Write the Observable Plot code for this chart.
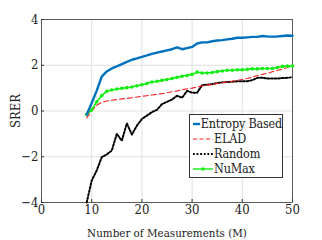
<!DOCTYPE html>
<html><head><meta charset="utf-8">
<script src="https://cdn.jsdelivr.net/npm/d3@7"></script>
<script src="https://cdn.jsdelivr.net/npm/@observablehq/plot@0.6"></script>
<style>
body{margin:0;background:#fff;}
#wrap{position:relative;width:322px;height:240px;font-family:'DejaVu Serif Condensed','DejaVu Serif',serif;font-stretch:condensed;}
#chart svg, #chart svg text{font-family:'DejaVu Serif Condensed','DejaVu Serif',serif !important;font-stretch:condensed;}
#legend{position:absolute;left:189px;top:114px;width:94px;height:64px;border:1px solid #333;background:#fff;box-sizing:border-box;font-size:12.5px;line-height:15px;padding-top:1px;color:#222;letter-spacing:-0.2px;}
#legend div{display:flex;align-items:center;white-space:nowrap;}
#legend svg{margin-left:3px;margin-right:1px;}
</style></head>
<body><div id="wrap"><div id="chart"></div><div id="legend"></div></div>
<script>
const M = d3.range(9, 51);
const entropy = [-0.16,0.35,0.89,1.5,1.73,1.86,1.95,2.05,2.15,2.24,2.3,2.37,2.43,2.5,2.55,2.6,2.65,2.7,2.78,2.7,2.75,2.8,2.95,3.0,3.0,3.05,3.08,3.1,3.13,3.16,3.2,3.2,3.22,3.24,3.24,3.28,3.26,3.25,3.26,3.28,3.3,3.29];
const elad = [-0.3,0.0,0.25,0.38,0.44,0.47,0.5,0.53,0.55,0.58,0.61,0.64,0.67,0.7,0.73,0.76,0.8,0.84,0.88,0.93,0.97,1.0,1.05,1.1,1.13,1.16,1.2,1.24,1.27,1.3,1.34,1.38,1.42,1.48,1.55,1.6,1.65,1.72,1.78,1.83,1.9,1.97];
const random = [-4.0,-3.04,-2.6,-2.02,-1.9,-1.73,-1.0,-1.3,-0.54,-1.03,-0.64,-0.35,-0.2,-0.05,0.05,0.3,0.4,0.5,0.67,0.58,0.88,0.8,0.8,1.13,1.15,1.18,1.22,1.25,1.27,1.28,1.3,1.3,1.3,1.35,1.45,1.45,1.42,1.42,1.42,1.44,1.45,1.48];
const numax = [-0.15,0.05,0.4,0.67,0.86,0.92,0.96,0.99,1.02,1.05,1.1,1.15,1.2,1.27,1.3,1.34,1.38,1.42,1.47,1.52,1.55,1.6,1.7,1.66,1.66,1.68,1.72,1.75,1.78,1.78,1.8,1.8,1.82,1.84,1.84,1.86,1.86,1.86,1.9,1.95,1.96,1.97];
const xTicks = [0,10,20,30,40,50];
const yTicks = [-4,-2,0,2,4];
const seriesNames = ["Entropy Based","ELAD","Random","NuMax"];

const rows = (vals) => M.map((m,i)=>({m, v: vals[i]}));
const dE = rows(entropy), dL = rows(elad), dR = rows(random), dN = rows(numax);

const chart = Plot.plot({
  width: 322, height: 240,
  marginLeft: 41, marginRight: 30, marginTop: 19, marginBottom: 38,
  style: {fontSize: "13px", background: "#fff", color: "#222"},
  x: {domain: [0,50], ticks: xTicks},
  y: {domain: [-4,4], ticks: yTicks},
  marks: [
    Plot.gridX(xTicks.slice(1,-1), {stroke: "#e0e0e0", strokeOpacity: 1}),
    Plot.gridY(yTicks.slice(1,-1), {stroke: "#e0e0e0", strokeOpacity: 1}),
    Plot.frame({stroke: "#333", strokeWidth: 0.8}),
    Plot.axisX({ticks: xTicks, tickSize: -3, tickPadding: 5, stroke: "#333", fontSize: 13, label: null}),
    Plot.axisX({ticks: [], fontSize: 11.5, label: "Number of Measurements (M)", labelAnchor: "center", labelArrow: "none", labelOffset: 34}),
    Plot.axisY({ticks: yTicks, tickSize: -3, tickPadding: 6, stroke: "#333", fontSize: 13, label: "SRER", labelAnchor: "center", labelArrow: "none", labelOffset: 31}),
    Plot.line(dR, {x: "m", y: "v", stroke: "#000", strokeWidth: 2, strokeDasharray: "1.8,1.8"}),
    Plot.line(dL, {x: "m", y: "v", stroke: "#ff2020", strokeWidth: 1.1, strokeDasharray: "5,3"}),
    Plot.line(dN, {x: "m", y: "v", stroke: "#11ee11", strokeWidth: 1.6}),
    Plot.dot(dN, {x: "m", y: "v", fill: "#11ee11", r: 1.8, symbol: "circle"}),
    Plot.line(dE, {x: "m", y: "v", stroke: "#0072BD", strokeWidth: 2.4})
  ]
});
document.getElementById("chart").appendChild(chart);

const styles = [
  {stroke:"#0072BD", w:2.4, dash:null, dot:false},
  {stroke:"#ff2020", w:1.1, dash:"4,2.5", dot:false},
  {stroke:"#000", w:2, dash:"1.8,1.8", dot:false},
  {stroke:"#11ee11", w:1.4, dash:null, dot:true}
];
const lg = document.getElementById("legend");
seriesNames.forEach((name,i)=>{
  const s = styles[i];
  const row = document.createElement("div");
  row.innerHTML = `<svg width="20" height="10"><line x1="0" x2="20" y1="5" y2="5" stroke="${s.stroke}" stroke-width="${s.w}" ${s.dash?`stroke-dasharray="${s.dash}"`:""}/>${s.dot?`<circle cx="10" cy="5" r="1.8" fill="${s.stroke}"/>`:""}</svg><span>${name}</span>`;
  lg.appendChild(row);
});
</script></body></html>
